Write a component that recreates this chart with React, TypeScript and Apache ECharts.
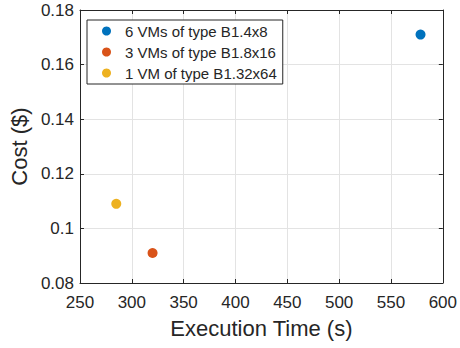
import React, { useEffect, useRef } from "react";
import * as echarts from "echarts";

const seriesNames = ["6 VMs of type B1.4x8", "3 VMs of type B1.8x16", "1 VM of type B1.32x64"];
const execTimes = [578.5, 320, 285];
const costs = [0.171, 0.091, 0.109];
const colors = ["#0072BD", "#D95319", "#EDB120"];

const FONT = "'Liberation Sans', Arial, Helvetica, sans-serif";
const INK = "#262626";

export default function App() {
  const ref = useRef<HTMLDivElement>(null);
  useEffect(() => {
    if (!ref.current) return;
    const chart = echarts.init(ref.current, undefined, { renderer: "svg" });
    const gridLine = { show: true, lineStyle: { color: "#e3e3e3", width: 1 } };
    const axisCommon = {
      axisLine: { show: true, onZero: false, lineStyle: { color: INK, width: 1 } },
      axisTick: { show: true, inside: true, length: 4, lineStyle: { color: INK } },
    };
    chart.setOption({
      animation: false,
      backgroundColor: "#ffffff",
      grid: { left: 77.5, right: 14.5, top: 10, bottom: 65, containLabel: false },
      legend: {
        orient: "vertical",
        left: 87,
        top: 20,
        data: seriesNames,
        icon: "circle",
        itemWidth: 9,
        itemHeight: 9,
        itemGap: 5,
        padding: [3, 6, 3, 15],
        borderColor: INK,
        borderWidth: 1,
        borderRadius: 0,
        backgroundColor: "#ffffff",
        textStyle: {
          fontFamily: FONT,
          fontSize: 15,
          lineHeight: 16,
          color: INK,
          padding: [0, 0, 0, 9],
        },
      },
      xAxis: [
        {
          type: "value",
          min: 250,
          max: 600,
          interval: 50,
          name: "Execution Time (s)",
          nameLocation: "middle",
          nameGap: 34,
          nameTextStyle: { fontFamily: FONT, fontSize: 22, color: INK },
          axisLabel: { fontFamily: FONT, fontSize: 17, color: INK, margin: 11 },
          splitLine: gridLine,
          ...axisCommon,
        },
        {
          type: "value",
          position: "top",
          min: 250,
          max: 600,
          interval: 50,
          axisLabel: { show: false },
          splitLine: { show: false },
          ...axisCommon,
        },
      ],
      yAxis: [
        {
          type: "value",
          min: 0.08,
          max: 0.18,
          interval: 0.02,
          name: "Cost ($)",
          nameLocation: "middle",
          nameGap: 44,
          nameTextStyle: { fontFamily: FONT, fontSize: 22, color: INK },
          axisLabel: {
            fontFamily: FONT,
            fontSize: 17,
            color: INK,
            margin: 6,
            formatter: (v: number) => String(parseFloat(v.toFixed(4))),
          },
          splitLine: gridLine,
          ...axisCommon,
        },
        {
          type: "value",
          position: "right",
          min: 0.08,
          max: 0.18,
          interval: 0.02,
          axisLabel: { show: false },
          splitLine: { show: false },
          ...axisCommon,
        },
      ],
      series: seriesNames.map((name, i) => ({
        name,
        type: "scatter",
        xAxisIndex: 0,
        yAxisIndex: 0,
        symbol: "circle",
        symbolSize: 10,
        itemStyle: { color: colors[i], opacity: 1 },
        data: [[execTimes[i], costs[i]]],
      })),
    });
    return () => chart.dispose();
  }, []);
  return (
    <div
      ref={ref}
      style={{ position: "absolute", left: 0, top: 0, width: 460, height: 348 }}
    />
  );
}
